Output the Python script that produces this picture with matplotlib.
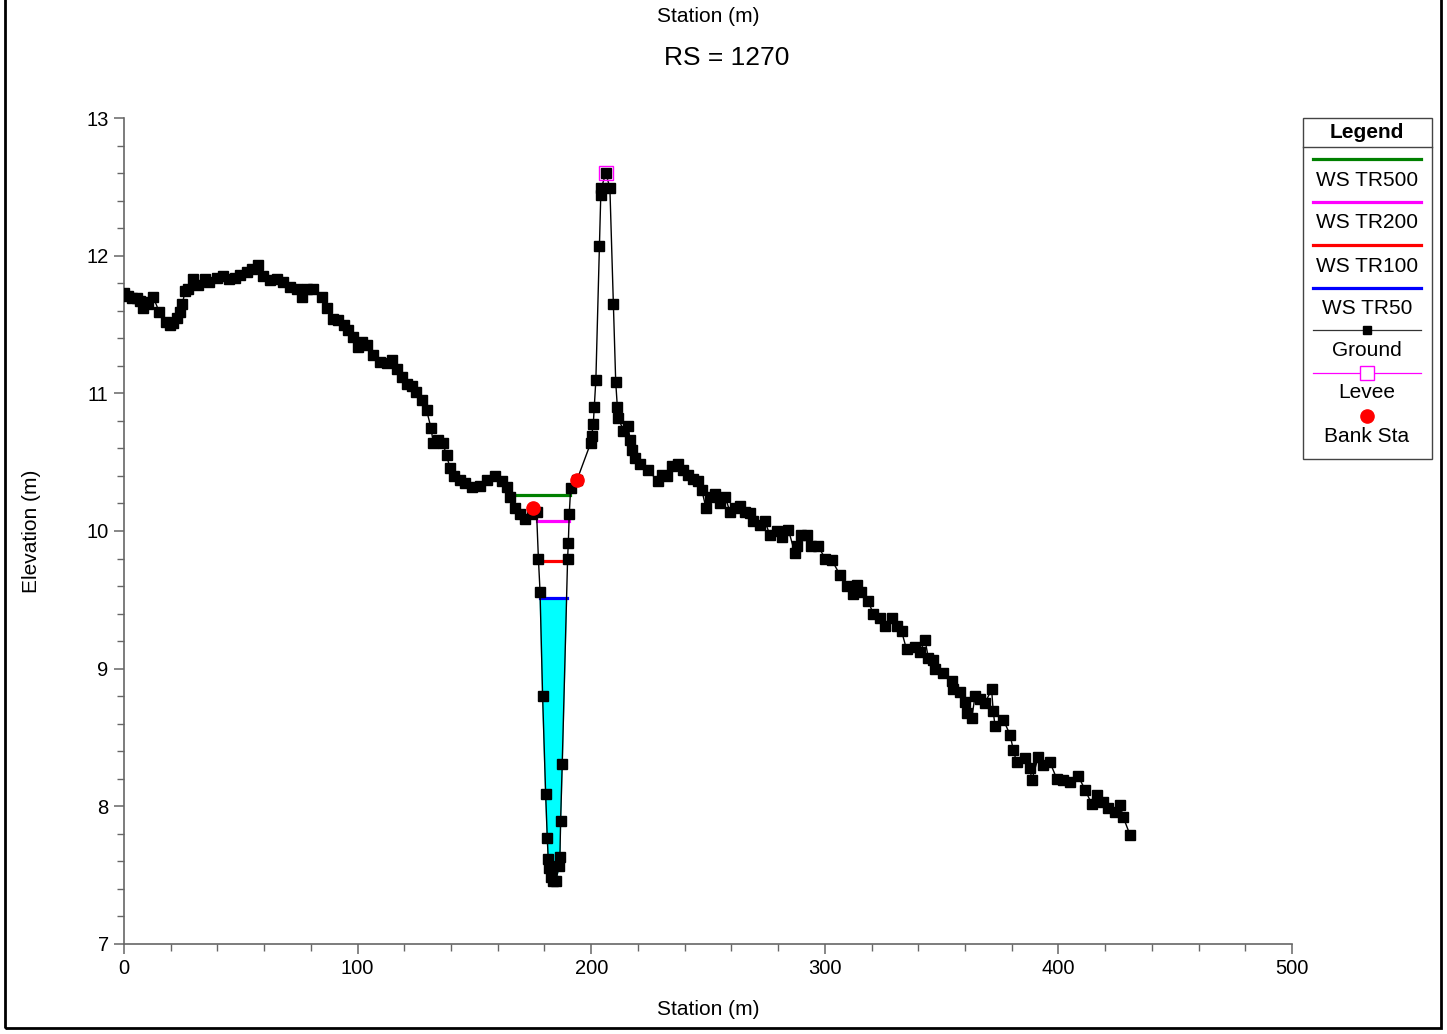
import numpy as np
import matplotlib.pyplot as plt
from matplotlib.lines import Line2D
from matplotlib.patches import Rectangle
from matplotlib.ticker import MultipleLocator

plt.rcParams['font.family'] = ['Liberation Sans', 'DejaVu Sans']

# ----------------------------------------------------
# Data read from the cross section (RS = 1270)
# ----------------------------------------------------

station = [
    0.0, 1.5, 3.3, 5.4, 6.8, 8.0, 9.5, 10.4, 12.5, 15.1, 18.0, 19.5, 21.1,
    22.5, 24.0, 25.0, 26.1, 27.5, 29.4, 31.8, 34.6, 36.5, 39.7, 42.2, 45.0,
    47.5, 49.7, 52.5, 55.0, 57.5, 59.6, 62.5, 65.4, 67.9, 71.1, 73.9, 76.1,
    78.2, 81.1, 84.6, 86.8, 89.6, 91.8, 94.0, 96.0, 98.2, 100.3, 101.7,
    103.9, 106.7, 109.6, 112.5, 114.6, 116.7, 118.9, 121.0, 123.2, 125.0,
    127.4, 129.5, 131.4, 132.4, 134.6, 136.4, 138.1, 139.5, 141.3, 143.8,
    146.0, 148.8, 152.4, 155.2, 158.8, 161.7, 163.8, 165.2, 167.4, 169.5,
    171.6, 174.5, 176.6, 177.4, 178.1, 179.2, 180.5, 181.2, 181.6, 182.1,
    182.7, 183.8, 184.9, 186.3, 186.6, 186.9, 187.6, 189.9, 190.2, 190.6,
    191.2, 193.9, 199.8, 200.2, 200.9, 201.3, 202.0, 203.5, 204.1, 204.3,
    206.3, 208.0, 209.5, 210.5, 211.2, 211.6, 213.8, 215.9, 216.6, 217.3,
    218.8, 220.9, 224.4, 228.7, 230.2, 232.3, 234.4, 237.3, 239.4, 241.6,
    243.7, 245.9, 247.3, 249.1, 250.9, 253.0, 255.1, 257.3, 259.4, 261.6,
    263.7, 265.8, 268.0, 269.4, 272.3, 274.4, 276.5, 279.4, 281.5, 284.4,
    287.2, 287.9, 290.0, 292.2, 294.3, 297.2, 300.1, 303.0, 306.5, 309.4,
    312.2, 313.6, 315.7, 318.6, 320.7, 323.6, 325.7, 328.6, 330.7, 332.9,
    335.0, 338.6, 340.8, 342.9, 344.3, 346.5, 347.2, 350.7, 354.3, 355.0,
    357.9, 360.0, 360.7, 362.9, 364.3, 366.5, 368.6, 371.4, 372.1, 372.9,
    376.4, 379.3, 380.7, 382.1, 385.7, 387.8, 388.6, 391.4, 393.6, 396.4,
    399.3, 402.1, 405.0, 408.5, 411.4, 414.2, 416.4, 419.2, 421.4, 424.2,
    426.4, 427.8, 430.7,
]

elevation = [
    11.73, 11.71, 11.69, 11.69, 11.67, 11.62, 11.66, 11.65, 11.70, 11.59,
    11.52, 11.50, 11.51, 11.55, 11.59, 11.65, 11.74, 11.76, 11.83, 11.79,
    11.83, 11.81, 11.84, 11.85, 11.83, 11.84, 11.86, 11.88, 11.90, 11.93,
    11.85, 11.82, 11.83, 11.81, 11.77, 11.76, 11.70, 11.76, 11.76, 11.70,
    11.62, 11.54, 11.53, 11.50, 11.46, 11.41, 11.34, 11.37, 11.35, 11.28,
    11.23, 11.22, 11.24, 11.18, 11.12, 11.07, 11.05, 11.01, 10.95, 10.88,
    10.75, 10.64, 10.66, 10.64, 10.55, 10.46, 10.40, 10.37, 10.35, 10.32,
    10.33, 10.37, 10.40, 10.36, 10.32, 10.25, 10.17, 10.12, 10.09, 10.12,
    10.14, 9.80, 9.56, 8.80, 8.09, 7.77, 7.62, 7.55, 7.49, 7.46, 7.46, 7.57,
    7.63, 7.89, 8.31, 9.80, 9.91, 10.12, 10.31, 10.37, 10.64, 10.69, 10.78,
    10.90, 11.10, 12.07, 12.44, 12.49, 12.60, 12.49, 11.65, 11.08, 10.90,
    10.82, 10.73, 10.76, 10.66, 10.59, 10.53, 10.49, 10.44, 10.36, 10.41,
    10.40, 10.47, 10.49, 10.44, 10.41, 10.38, 10.36, 10.30, 10.17, 10.25,
    10.27, 10.20, 10.25, 10.14, 10.17, 10.18, 10.14, 10.13, 10.07, 10.04,
    10.07, 9.97, 10.00, 9.96, 10.01, 9.84, 9.89, 9.97, 9.97, 9.89, 9.89,
    9.80, 9.79, 9.68, 9.60, 9.54, 9.61, 9.56, 9.49, 9.40, 9.37, 9.31, 9.37,
    9.31, 9.27, 9.14, 9.16, 9.12, 9.21, 9.08, 9.06, 9.00, 8.97, 8.91, 8.85,
    8.83, 8.76, 8.68, 8.64, 8.80, 8.78, 8.75, 8.85, 8.69, 8.58, 8.63, 8.52,
    8.41, 8.32, 8.35, 8.28, 8.19, 8.36, 8.30, 8.32, 8.20, 8.19, 8.18, 8.22,
    8.12, 8.02, 8.08, 8.03, 7.99, 7.96, 8.01, 7.92, 7.79,
]

# Water surface profiles
ws_names = ["WS TR500", "WS TR200", "WS TR100", "WS TR50"]
ws_levels = [10.26, 10.07, 9.78, 9.51]
ws_colors = ["green", "magenta", "red", "blue"]

# Levee and bank stations
levee_station = [206.3]
levee_elevation = [12.60]

bank_station = [175.0, 193.9]
bank_elevation = [10.17, 10.37]

station = np.array(station)
elevation = np.array(elevation)


# ----------------------------------------------------
# Where a water level meets the channel walls
# ----------------------------------------------------

def wet_limits(level):
    low = np.argmin(elevation)

    i = low
    while elevation[i - 1] < level:
        i -= 1
    left = np.interp(level, [elevation[i], elevation[i - 1]],
                     [station[i], station[i - 1]])

    j = low
    while elevation[j + 1] < level:
        j += 1
    right = np.interp(level, [elevation[j], elevation[j + 1]],
                      [station[j], station[j + 1]])

    return left, right


# ----------------------------------------------------
# Figure
# ----------------------------------------------------

W, H = 1447, 1034
fig = plt.figure(figsize=(W / 100, H / 100), dpi=100)

ax = fig.add_axes([124 / W, 1 - 944 / H, (1292 - 124) / W, (944 - 118) / H])


def fx(x):
    return x / W


def fy(y):
    return 1 - y / H


# Wetted area for the lowest profile
left, right = wet_limits(ws_levels[-1])
inside = (station > left) & (station < right)
ax.fill(
    np.concatenate([[left], station[inside], [right]]),
    np.concatenate([[ws_levels[-1]], elevation[inside], [ws_levels[-1]]]),
    color="cyan",
    zorder=1,
)

# Water surface lines
for level, color in zip(ws_levels, ws_colors):
    a, b = wet_limits(level)
    ax.plot([a, b], [level, level], color=color, lw=2.3, zorder=2)

# Ground
ax.plot(
    station,
    elevation,
    color="black",
    lw=1.0,
    marker="s",
    markersize=6.5,
    zorder=3,
)

# Levee
ax.plot(
    levee_station,
    levee_elevation,
    linestyle="none",
    marker="s",
    markersize=9.5,
    markerfacecolor="none",
    markeredgecolor="magenta",
    markeredgewidth=1.0,
    zorder=5,
)

# Bank stations
ax.plot(
    bank_station,
    bank_elevation,
    linestyle="none",
    marker="o",
    markersize=9.5,
    color="red",
    zorder=5,
)

# ----------------------------------------------------
# Axes styling
# ----------------------------------------------------

ax.set_xlim(0, 500)
ax.set_ylim(7, 13)

ax.xaxis.set_major_locator(MultipleLocator(100))
ax.xaxis.set_minor_locator(MultipleLocator(20))
ax.yaxis.set_major_locator(MultipleLocator(1))
ax.yaxis.set_minor_locator(MultipleLocator(0.2))

for side in ["top", "right"]:
    ax.spines[side].set_visible(False)
for side in ["left", "bottom"]:
    ax.spines[side].set_color("#666666")
    ax.spines[side].set_linewidth(1.2)

ax.tick_params(which="major", length=7, width=1.1, color="#666666",
               labelsize=14.5, pad=4)
ax.tick_params(which="minor", length=5, width=1.0, color="#666666")

ax.set_xlabel("Station (m)", fontsize=15)
ax.xaxis.set_label_coords(0.5, -0.0675)
ax.set_ylabel("Elevation (m)", fontsize=15)
ax.yaxis.set_label_coords(-0.071, 0.5)

fig.text(fx(708), fy(16), "Station (m)", fontsize=15,
         ha="center", va="center")
fig.text(fx(727), fy(58), "RS = 1270", fontsize=19,
         ha="center", va="center")

# ----------------------------------------------------
# Legend box
# ----------------------------------------------------

fig.add_artist(Rectangle(
    (fx(1303), fy(459)), fx(1432 - 1303), (459 - 118) / H,
    transform=fig.transFigure, facecolor="white",
    edgecolor="#444444", lw=1.0,
))
fig.add_artist(Line2D([fx(1303), fx(1432)], [fy(147), fy(147)],
                      transform=fig.transFigure, color="#444444", lw=1.0))
fig.text(fx(1367), fy(132), "Legend", fontsize=15, fontweight="bold",
         ha="center", va="center")

line_y = [159, 202, 245, 288]
for name, color, ly in zip(ws_names, ws_colors, line_y):
    fig.add_artist(Line2D([fx(1313), fx(1421)], [fy(ly), fy(ly)],
                          transform=fig.transFigure, color=color, lw=2.3))
    fig.text(fx(1367), fy(ly + 21), name, fontsize=15,
             ha="center", va="center")

fig.add_artist(Line2D([fx(1313), fx(1367), fx(1421)],
                      [fy(330), fy(330), fy(330)],
                      transform=fig.transFigure, color="#333333", lw=0.9,
                      marker="s", markersize=6, markevery=[1],
                      markerfacecolor="black", markeredgecolor="black"))
fig.text(fx(1367), fy(350), "Ground", fontsize=15, ha="center", va="center")

fig.add_artist(Line2D([fx(1313), fx(1367), fx(1421)],
                      [fy(373), fy(373), fy(373)],
                      transform=fig.transFigure, color="magenta", lw=0.9,
                      marker="s", markersize=9.5, markevery=[1],
                      markerfacecolor="white", markeredgecolor="magenta"))
fig.text(fx(1367), fy(393), "Levee", fontsize=15, ha="center", va="center")

fig.add_artist(Line2D([fx(1367)], [fy(416)], transform=fig.transFigure,
                      linestyle="none", marker="o", markersize=9.5,
                      color="red"))
fig.text(fx(1367), fy(436), "Bank Sta", fontsize=15,
         ha="center", va="center")

# Outer frame
fig.add_artist(Rectangle(
    (fx(5), fy(1028)), fx(1441 - 5), (1028 + 5) / H,
    transform=fig.transFigure, facecolor="none",
    edgecolor="black", lw=2.0,
))

fig.savefig("out.png", dpi=100)
